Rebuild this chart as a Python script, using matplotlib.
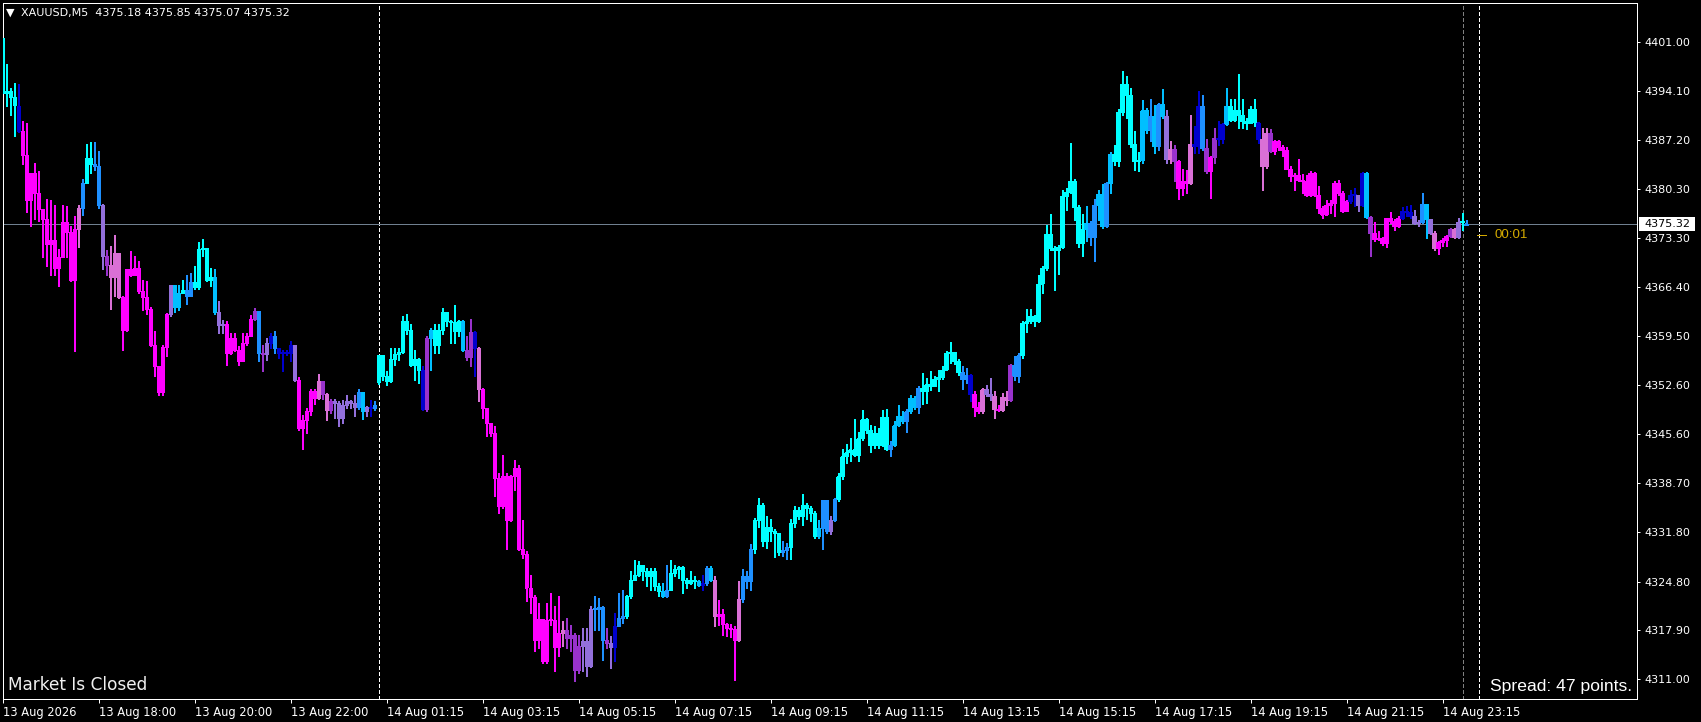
import numpy as np
import matplotlib
matplotlib.use("Agg")
import matplotlib.pyplot as plt
from matplotlib.patches import Rectangle

plt.rcParams['font.family'] = ['DejaVu Sans']
plt.rcParams['lines.scale_dashes'] = False

symbol = "XAUUSD,M5"
last_ohlc = [4375.18, 4375.85, 4375.07, 4375.32]
spread_points = 47
countdown = "00:01"

# closes of every M5 bar (bar 0 = 13 Aug 16:00)
closes = [
    4393.8, 4394.0, 4393.2, 4392.0, 4388.4, 4385.0, 4378.6, 4382.5, 4379.7, 4377.4,
    4376.0, 4372.5, 4373.0, 4369.1, 4370.6, 4375.6, 4374.1, 4367.4, 4374.5, 4377.5,
    4381.1, 4384.6, 4383.8, 4383.4, 4377.9, 4370.8, 4369.4, 4367.7, 4371.2, 4364.9,
    4360.3, 4368.9, 4368.1, 4369.0, 4365.8, 4365.0, 4363.3, 4358.2, 4355.2, 4351.5,
    4357.9, 4362.5, 4366.6, 4363.6, 4365.5, 4366.0, 4365.1, 4367.1, 4366.4, 4371.7,
    4371.9, 4367.4, 4367.8, 4362.8, 4361.0, 4361.2, 4357.0, 4359.2, 4357.5, 4355.9,
    4358.4, 4359.4, 4361.9, 4363.0, 4357.0, 4356.9, 4358.4, 4359.4, 4357.8, 4357.0,
    4357.2, 4357.0, 4358.1, 4353.2, 4346.5, 4347.6, 4348.8, 4351.6, 4350.7, 4353.05,
    4351.2, 4349.0, 4350.2, 4349.9, 4347.8, 4349.75, 4350.2, 4350.0, 4349.4, 4351.5,
    4348.8, 4349.4, 4349.2, 4349.75, 4356.7, 4353.85, 4353.05, 4356.25, 4356.9, 4357.15,
    4361.6, 4360.25, 4355.4, 4356.25, 4354.6, 4349.05, 4359.2, 4360.35, 4358.1, 4360.3,
    4362.85, 4361.5, 4361.45, 4360.1, 4361.6, 4357.5, 4356.4, 4360.0, 4357.75, 4351.95,
    4349.3, 4347.2, 4345.75, 4339.4, 4335.4, 4339.6, 4333.5, 4339.6, 4340.8, 4329.35,
    4328.7, 4323.9, 4322.6, 4316.5, 4319.5, 4313.5, 4319.35, 4319.3, 4315.45, 4317.5,
    4317.95, 4316.8, 4317.25, 4312.2, 4315.6, 4316.4, 4312.8, 4320.8, 4320.9, 4321.1,
    4316.45, 4316.1, 4315.45, 4318.5, 4319.6, 4319.9, 4322.65, 4325.0, 4325.7, 4327.1,
    4326.2, 4325.5, 4326.3, 4324.1, 4323.4, 4322.75, 4323.6, 4325.95, 4326.5, 4326.8,
    4324.9, 4324.55, 4325.0, 4324.8, 4324.3, 4324.5, 4326.7, 4325.0, 4319.85, 4320.2,
    4318.7, 4318.2, 4318.0, 4316.5, 4322.3, 4325.5, 4324.8, 4329.4, 4333.5, 4335.6,
    4330.45, 4332.5, 4331.9, 4331.6, 4328.9, 4329.2, 4329.65, 4332.95, 4334.9, 4334.0,
    4335.5, 4335.2, 4334.45, 4331.15, 4332.35, 4336.2, 4331.85, 4333.5, 4336.35, 4339.65,
    4342.45, 4343.05, 4343.4, 4342.6, 4345.05, 4347.65, 4346.2, 4344.0, 4345.7, 4344.1,
    4348.0, 4343.4, 4344.1, 4346.8, 4348.2, 4347.4, 4348.8, 4350.7, 4349.4, 4352.1,
    4351.6, 4352.6, 4352.35, 4353.4, 4353.7, 4354.7, 4357.05, 4357.15, 4355.9, 4354.3,
    4353.3, 4353.9, 4351.2, 4349.4, 4348.85, 4351.9, 4351.2, 4350.95, 4349.15, 4349.0,
    4350.8, 4350.45, 4355.4, 4353.85, 4356.7, 4361.3, 4361.5, 4362.3, 4361.5, 4366.85,
    4369.05, 4373.8, 4371.9, 4371.6, 4372.0, 4379.2, 4379.75, 4381.4, 4377.65, 4372.6,
    4374.6, 4375.4, 4373.45, 4378.0, 4379.55, 4374.95, 4381.0, 4385.2, 4384.1, 4391.05,
    4395.1, 4393.55, 4386.5, 4384.1, 4384.3, 4391.3, 4388.6, 4390.5, 4386.25, 4392.15,
    4390.5, 4384.4, 4385.9, 4384.1, 4380.3, 4381.4, 4381.1, 4386.6, 4386.25, 4392.0,
    4386.0, 4382.7, 4384.7, 4387.4, 4387.3, 4389.45, 4392.0, 4390.0, 4391.4, 4390.7,
    4389.8, 4389.5, 4391.5, 4389.6, 4387.3, 4383.5, 4388.15, 4385.55, 4387.0, 4386.2,
    4385.7, 4383.05, 4382.0, 4382.2, 4381.45, 4381.3, 4379.3, 4382.5, 4379.3, 4377.55,
    4376.6, 4378.0, 4378.25, 4381.05, 4379.65, 4377.05, 4378.5, 4379.3, 4379.4, 4377.9,
    4382.5, 4376.3, 4374.0, 4373.2, 4373.3, 4372.6, 4376.1, 4375.65, 4374.95, 4376.1,
    4377.05, 4377.0, 4376.4, 4375.4, 4375.6, 4378.15, 4375.9, 4374.0, 4371.9, 4372.7,
    4373.05, 4373.6, 4374.5, 4373.4, 4375.5, 4375.75, 4375.32,
]

highs = [
    4402.0, 4397.9, 4394.5, 4395.2, 4395.1, 4389.8, 4389.55, 4382.5, 4383.9, 4382.7,
    4377.3, 4378.85, 4378.7, 4378.0, 4371.75, 4378.0, 4377.85, 4375.0, 4376.35, 4378.0,
    4381.55, 4386.6, 4386.8, 4386.8, 4385.55, 4378.15, 4371.65, 4372.1, 4373.75, 4371.2,
    4365.05, 4368.9, 4371.4, 4370.7, 4370.0, 4367.3, 4367.25, 4363.55, 4360.1, 4355.25,
    4358.2, 4362.7, 4366.7, 4366.7, 4366.7, 4367.4, 4368.1, 4368.35, 4369.3, 4372.7,
    4373.15, 4371.75, 4369.05, 4368.9, 4364.35, 4361.75, 4361.5, 4359.9, 4359.9, 4358.0,
    4359.9, 4359.9, 4362.45, 4363.4, 4363.0, 4358.1, 4359.15, 4359.9, 4360.1, 4357.75,
    4357.5, 4357.5, 4358.7, 4358.2, 4353.6, 4348.3, 4349.3, 4351.9, 4351.9, 4354.0,
    4352.8, 4351.4, 4350.5, 4350.5, 4350.2, 4350.46, 4351.16, 4350.46, 4351.16, 4351.96,
    4351.49, 4349.51, 4350.46, 4350.22, 4356.82, 4356.82, 4354.46, 4357.76, 4357.76, 4357.76,
    4362.23, 4362.61, 4361.06, 4357.52, 4356.34, 4355.17, 4359.5, 4360.6, 4361.06, 4361.06,
    4363.41, 4362.23, 4361.76, 4363.88, 4361.76, 4361.76, 4359.41, 4361.86, 4360.11, 4357.9,
    4352.11, 4349.28, 4347.16, 4346.69, 4340.09, 4342.68, 4340.09, 4339.86, 4341.98, 4341.27,
    4333.5, 4329.02, 4325.73, 4322.9, 4321.72, 4319.37, 4321.72, 4323.14, 4321.25, 4322.67,
    4319.13, 4319.6, 4318.66, 4317.48, 4317.25, 4318.19, 4318.19, 4321.25, 4322.67, 4322.43,
    4321.25, 4318.19, 4317.01, 4320.31, 4323.14, 4323.61, 4322.9, 4326.2, 4327.85, 4327.61,
    4327.14, 4326.67, 4326.6, 4326.67, 4324.55, 4324.55, 4327.14, 4327.85, 4327.14, 4326.91,
    4327.0, 4325.26, 4326.2, 4325.49, 4325.02, 4325.73, 4326.91, 4327.0, 4325.49, 4322.1,
    4320.8, 4318.9, 4318.8, 4318.43, 4324.78, 4326.5, 4326.2, 4330.0, 4333.74, 4336.48,
    4335.86, 4334.07, 4333.51, 4332.2, 4331.62, 4330.45, 4330.21, 4333.51, 4335.39, 4335.3,
    4337.18, 4335.86, 4335.39, 4334.69, 4333.37, 4336.33, 4336.33, 4333.98, 4336.57, 4340.1,
    4343.4, 4344.11, 4345.05, 4347.73, 4345.85, 4349.05, 4347.87, 4346.93, 4346.7, 4346.46,
    4349.05, 4349.15, 4344.58, 4347.4, 4349.62, 4348.82, 4349.15, 4351.03, 4350.94, 4352.35,
    4354.23, 4353.53, 4354.47, 4353.76, 4354.7, 4355.18, 4357.3, 4358.57, 4356.82, 4356.12,
    4355.18, 4354.94, 4354.0, 4351.64, 4350.09, 4352.11, 4352.58, 4353.53, 4351.64, 4349.62,
    4351.4, 4351.63, 4355.5, 4356.67, 4357.05, 4361.52, 4363.27, 4363.27, 4362.47, 4368.12,
    4369.3, 4375.18, 4376.74, 4372.12, 4372.36, 4380.13, 4380.37, 4386.72, 4381.64, 4378.01,
    4376.74, 4377.77, 4375.66, 4378.81, 4380.13, 4380.84, 4381.2, 4385.41, 4386.35, 4391.53,
    4396.85, 4396.14, 4394.5, 4388.37, 4385.41, 4392.75, 4391.67, 4392.94, 4392.14, 4392.38,
    4394.35, 4391.43, 4387.05, 4386.49, 4384.37, 4382.96, 4382.86, 4390.59, 4389.08, 4394.03,
    4393.55, 4387.2, 4384.84, 4388.84, 4389.79, 4389.55, 4394.5, 4392.94, 4392.85, 4396.52,
    4392.94, 4390.26, 4391.91, 4392.85, 4389.64, 4388.84, 4388.84, 4388.61, 4387.1, 4387.1,
    4386.49, 4386.16, 4383.43, 4382.4, 4384.46, 4382.39, 4382.25, 4382.72, 4382.58, 4380.6,
    4377.77, 4378.72, 4378.72, 4381.31, 4381.54, 4379.89, 4378.72, 4380.13, 4380.37, 4379.42,
    4382.58, 4382.58, 4376.36, 4375.51, 4374.24, 4373.44, 4376.13, 4376.93, 4375.98, 4376.36,
    4377.68, 4377.87, 4378.01, 4377.3, 4375.89, 4379.66, 4378.01, 4375.98, 4374.24, 4372.83,
    4373.3, 4373.77, 4374.71, 4374.71, 4376.13, 4376.83, 4375.85,
]

lows = [
    4391.4, 4391.9, 4390.7, 4387.7, 4388.2, 4383.7, 4376.9, 4374.95, 4375.9, 4375.65,
    4370.6, 4369.3, 4368.1, 4368.0, 4366.5, 4370.7, 4370.6, 4367.2, 4357.3, 4372.0,
    4376.6, 4382.5, 4382.5, 4382.95, 4377.5, 4368.9, 4368.1, 4363.25, 4365.05, 4364.8,
    4357.5, 4360.1, 4367.9, 4368.1, 4365.5, 4363.15, 4362.55, 4358.0, 4353.75, 4351.15,
    4351.15, 4356.6, 4362.3, 4362.8, 4363.15, 4365.45, 4363.9, 4365.05, 4366.1, 4366.1,
    4370.8, 4367.2, 4366.5, 4362.6, 4359.9, 4359.9, 4355.4, 4356.9, 4357.3, 4355.4,
    4355.85, 4358.2, 4359.4, 4361.75, 4355.85, 4354.45, 4356.1, 4357.75, 4357.05, 4356.35,
    4354.45, 4356.8, 4355.85, 4353.05, 4346.2, 4343.4, 4345.75, 4348.3, 4349.8, 4350.5,
    4350.5, 4347.6, 4348.6, 4347.9, 4346.7, 4347.16, 4349.28, 4349.28, 4348.1, 4349.14,
    4347.72, 4348.1, 4348.1, 4349.04, 4352.72, 4353.28, 4352.58, 4352.9, 4355.4, 4356.11,
    4357.05, 4359.78, 4355.2, 4353.28, 4352.81, 4348.95, 4348.81, 4354.7, 4357.05, 4357.05,
    4359.78, 4360.82, 4358.46, 4358.46, 4359.41, 4357.3, 4356.11, 4355.26, 4353.75, 4350.22,
    4347.87, 4345.37, 4345.28, 4336.89, 4334.44, 4335.15, 4329.35, 4333.26, 4337.74, 4329.26,
    4328.08, 4321.96, 4320.31, 4314.89, 4315.37, 4313.25, 4313.3, 4318.66, 4312.07, 4314.19,
    4315.6, 4315.37, 4314.89, 4310.65, 4311.83, 4312.07, 4311.36, 4312.68, 4317.96, 4317.96,
    4313.72, 4315.37, 4312.54, 4313.48, 4318.43, 4318.9, 4319.6, 4322.43, 4325.02, 4325.49,
    4325.02, 4324.08, 4323.61, 4323.61, 4322.76, 4322.57, 4322.5, 4323.61, 4325.49, 4325.26,
    4323.14, 4323.84, 4324.4, 4323.84, 4324.08, 4323.61, 4324.3, 4324.78, 4318.43, 4318.66,
    4317.25, 4317.01, 4316.92, 4310.89, 4316.3, 4321.8, 4323.9, 4323.5, 4328.8, 4332.47,
    4329.74, 4329.5, 4330.45, 4328.23, 4328.56, 4328.33, 4327.86, 4327.86, 4332.47, 4333.51,
    4332.8, 4333.51, 4333.27, 4330.92, 4330.92, 4329.36, 4331.62, 4331.39, 4333.27, 4336.1,
    4339.26, 4341.52, 4341.75, 4342.46, 4341.75, 4344.81, 4345.75, 4343.02, 4343.64, 4343.64,
    4343.87, 4343.26, 4342.55, 4343.87, 4346.7, 4347.17, 4345.85, 4348.58, 4349.15, 4348.58,
    4349.76, 4349.99, 4351.78, 4352.35, 4351.64, 4353.29, 4354.61, 4355.65, 4355.41, 4353.86,
    4351.88, 4352.82, 4350.23, 4348.11, 4348.49, 4348.58, 4350.94, 4350.46, 4347.87, 4348.82,
    4348.81, 4349.75, 4350.3, 4353.28, 4352.9, 4356.34, 4359.97, 4361.29, 4360.82, 4361.4,
    4365.53, 4368.73, 4371.65, 4365.9, 4368.26, 4371.89, 4377.21, 4379.66, 4375.89, 4371.98,
    4370.71, 4372.83, 4372.36, 4370.0, 4375.89, 4374.71, 4374.8, 4379.66, 4383.66, 4383.43,
    4390.59, 4390.26, 4386.16, 4382.86, 4382.72, 4383.9, 4388.14, 4386.96, 4385.22, 4385.78,
    4390.26, 4383.9, 4383.9, 4381.31, 4378.72, 4379.42, 4379.66, 4380.84, 4385.31, 4385.31,
    4385.78, 4382.49, 4378.95, 4383.9, 4386.49, 4386.72, 4389.31, 4389.79, 4389.79, 4388.84,
    4388.84, 4388.61, 4389.46, 4389.08, 4386.72, 4380.04, 4383.19, 4385.41, 4385.08, 4385.78,
    4384.84, 4382.96, 4381.31, 4380.13, 4381.3, 4379.66, 4379.19, 4379.19, 4379.19, 4376.83,
    4376.13, 4376.6, 4376.83, 4376.36, 4379.42, 4376.93, 4377.07, 4378.25, 4377.77, 4377.07,
    4377.77, 4376.13, 4370.71, 4372.83, 4373.06, 4372.36, 4372.03, 4375.42, 4374.38, 4374.8,
    4375.98, 4376.36, 4376.13, 4375.3, 4374.95, 4375.42, 4373.3, 4373.9, 4371.65, 4371.09,
    4372.12, 4372.22, 4373.44, 4373.3, 4373.3, 4374.48, 4375.07,
]

# bars whose open is not the previous close (chart start, new session, current bar)
open_gaps = {0: 4401.5, 94: 4352.9, 366: last_ohlc[0]}

# candle colour codes of the trend indicator, as runs along the bars
color_runs = [
    ("c", 4), ("n", 1), ("m", 14), ("o", 1), ("b", 1), ("c", 2), ("b", 2), ("p", 1),
    ("k", 1), ("o", 3), ("m", 12), ("p", 1), ("d", 2), ("c", 1), ("b", 2), ("c", 5),
    ("d", 1), ("p", 2), ("m", 7), ("k", 1), ("b", 1), ("k", 1), ("p", 1), ("n", 1),
    ("b", 1), ("n", 4), ("p", 1), ("m", 5), ("o", 1), ("k", 1), ("o", 1), ("k", 1),
    ("p", 6), ("b", 1), ("d", 1), ("p", 1), ("n", 1), ("b", 1), ("c", 11), ("n", 1),
    ("k", 1), ("d", 1), ("c", 7), ("d", 1), ("k", 2), ("n", 1), ("o", 1), ("m", 20),
    ("o", 1), ("k", 4), ("p", 3), ("b", 3), ("k", 1), ("p", 1), ("n", 1), ("b", 2),
    ("c", 9), ("d", 1), ("b", 1), ("c", 7), ("d", 1), ("n", 1), ("b", 1), ("d", 1),
    ("o", 1), ("m", 5), ("o", 1), ("b", 3), ("c", 7), ("b", 2), ("c", 7), ("d", 1),
    ("b", 2), ("p", 1), ("b", 1), ("c", 13), ("b", 1), ("d", 3), ("b", 1), ("d", 2),
    ("b", 1), ("c", 10), ("b", 2), ("n", 1), ("m", 2), ("o", 1), ("p", 2), ("o", 1),
    ("m", 1), ("o", 2), ("k", 1), ("b", 2), ("c", 16), ("d", 1), ("b", 2), ("d", 2),
    ("b", 1), ("d", 1), ("c", 7), ("d", 2), ("b", 1), ("d", 1), ("b", 1), ("d", 1),
    ("p", 1), ("o", 1), ("k", 1), ("m", 3), ("o", 1), ("n", 2), ("b", 1), ("k", 1),
    ("m", 1), ("k", 1), ("n", 2), ("d", 1), ("c", 7), ("n", 1), ("o", 2), ("k", 1),
    ("m", 19), ("n", 2), ("p", 1), ("n", 1), ("d", 1), ("k", 1), ("m", 7), ("n", 3),
    ("p", 2), ("b", 1), ("d", 1), ("p", 1), ("o", 1), ("m", 3), ("k", 1), ("o", 1),
    ("p", 1), ("c", 1), ("b", 1),
]
palette = {
    "c": "#00FFFF", "d": "#00BFFF", "b": "#1E90FF", "n": "#0000CD",
    "p": "#9370DB", "k": "#9932CC", "o": "#DA70D6", "m": "#FF00FF",
}

price_ticks = [4401.00, 4394.10, 4387.20, 4380.30, 4373.30, 4366.40, 4359.50,
               4352.60, 4345.60, 4338.70, 4331.80, 4324.80, 4317.90, 4311.00]
time_labels = ["13 Aug 2026", "13 Aug 18:00", "13 Aug 20:00", "13 Aug 22:00",
               "14 Aug 01:15", "14 Aug 03:15", "14 Aug 05:15", "14 Aug 07:15",
               "14 Aug 09:15", "14 Aug 11:15", "14 Aug 13:15", "14 Aug 15:15",
               "14 Aug 17:15", "14 Aug 19:15", "14 Aug 21:15", "14 Aug 23:15"]
label_every = 24
day_separators = [94, 369]
cursor_bar = 365

W, H = 1701, 722
LW = 0.72  # one pixel at 100 dpi


def fx(x):
    return x / W


def fy(y):
    return 1 - y / H


codes = "".join(c * n for c, n in color_runs)
colors = [palette[c] for c in codes]
n = len(closes)
x = np.arange(n)
c = np.array(closes)
o = np.concatenate([[c[0]], c[:-1]])
for k, v in open_gaps.items():
    o[k] = v
hi = np.maximum(np.array(highs), np.maximum(o, c))
lo = np.minimum(np.array(lows), np.minimum(o, c))

fig = plt.figure(figsize=(W / 100, H / 100), dpi=100, facecolor="black")
ax = fig.add_axes([fx(2.7), fy(698.5), fx(1637.3 - 2.7), (698.5 - 2.7) / H])
ax.set_facecolor("black")
ax.set_xlim(0.05, 408.7)
ax.set_ylim(4308.29, 4406.595)

# period separators and current-bar marker
for b in day_separators:
    ax.axvline(b, color="white", lw=LW, dashes=(2.2, 1.5), antialiased=False, zorder=1)
ax.axvline(cursor_bar, color="#808080", lw=LW, dashes=(2.2, 1.5), antialiased=False, zorder=1)

# price line
ax.axhline(last_ohlc[3], color="#708090", lw=LW, antialiased=False, zorder=1)

# candles: 1 px wick, 3 px body
wicks = ax.vlines(x, lo, hi, colors=colors, lw=LW, antialiased=False, zorder=2)
wicks.set_snap(False)
body_lo = np.minimum(o, c)
body_h = np.maximum(np.abs(c - o), 0.15)
bodies = ax.bar(x, body_h, bottom=body_lo, width=0.8, color=colors, linewidth=0,
                antialiased=False, zorder=3)
for r in bodies:
    r.set_snap(False)

for s in ax.spines.values():
    s.set_color("white")
    s.set_linewidth(LW)

ax.yaxis.tick_right()
ax.set_yticks(price_ticks)
ax.set_yticklabels(["%.2f" % v for v in price_ticks])
ax.tick_params(axis="y", colors="white", labelcolor="white", labelsize=8,
               direction="out", length=2.2, width=LW, pad=2.8)

ax.set_xticks(np.arange(len(time_labels)) * label_every)
ax.set_xticklabels(time_labels, ha="left")
ax.tick_params(axis="x", colors="white", labelcolor="white", labelsize=8.3,
               direction="out", length=2.9, width=LW, pad=2.6)

# current price tag on the price scale
fig.patches.append(Rectangle((fx(1639.3), fy(230.7)), fx(55.7), 13.4 / H,
                             transform=fig.transFigure, facecolor="white",
                             edgecolor="none"))
fig.text(fx(1667.2), fy(224.2), "%.2f" % last_ohlc[3], color="black", fontsize=8,
         ha="center", va="center")

# bar countdown
fig.lines.append(plt.Line2D([fx(1477), fx(1486)], [fy(235.3), fy(235.3)],
                            transform=fig.transFigure, color="#D4AA00", lw=LW))
fig.text(fx(1494), fy(235), countdown, color="#D4AA00", fontsize=9.6,
         family="Liberation Sans", ha="left", va="center")

# chart header
fig.text(fx(6.0), fy(12.3), "\u25bc", color="white", fontsize=8, ha="left", va="center")
fig.text(fx(20.5), fy(12.8),
         "%s  %.2f %.2f %.2f %.2f" % ((symbol,) + tuple(last_ohlc)),
         color="white", fontsize=8, ha="left", va="center")

# status texts
fig.text(fx(8.3), fy(685.5), "Market Is Closed", color="#F0F0F0", fontsize=12.2,
         ha="left", va="center")
fig.text(fx(1632.3), fy(686), "Spread: %d points." % spread_points, color="white",
         fontsize=12.6, family="Liberation Sans", ha="right", va="center")

fig.savefig("out.png", dpi=100, facecolor="black")
